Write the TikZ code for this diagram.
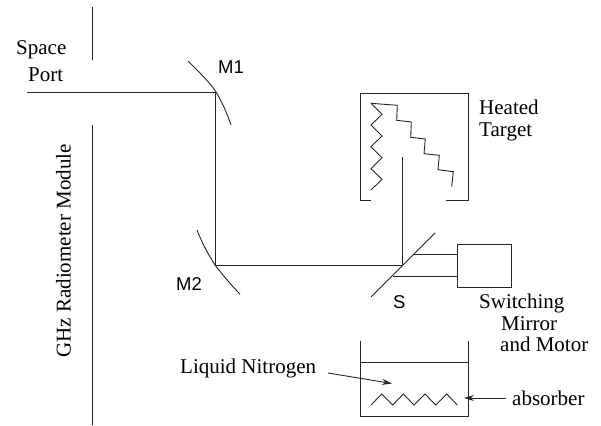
\documentclass[tikz,border=0pt]{standalone}
\usepackage{fontspec}
\setmainfont{Liberation Serif}
\newfontfamily\lab{Liberation Sans}
\usetikzlibrary{arrows.meta}
\tikzset{
  ln/.style={draw=black!85,line width=0.9pt,line join=miter},
  txt/.style={inner sep=0pt,font=\fontsize{21}{23}\selectfont,anchor=base west},
  mlab/.style={inner sep=0pt,font=\lab\fontsize{18.5}{20}\selectfont,anchor=base west},
  tip/.style={-{Stealth[length=10pt,width=6pt]}}
}
\begin{document}
\begin{tikzpicture}[x=1pt,y=-1pt]
\useasboundingbox (0,0) rectangle (601,425);
% walls
\coordinate (w1) at (92,7); \coordinate (w2) at (92,60);
\coordinate (w3) at (92,125); \coordinate (w4) at (92,425);
\draw[ln] (w1)--(w2); \draw[ln] (w3)--(w4);
% beam
\coordinate (b0) at (27,92); \coordinate (b1) at (215,92);
\coordinate (b2) at (215,265); \coordinate (b3) at (402,265);
\coordinate (b4) at (402,157);
\draw[ln] (b0)--(b1)--(b2)--(b3)--(b4);
% mirrors
\draw[ln] (188,61) .. controls (203,76) and (211,84) .. (216,92) .. controls (222,102) and (227,113) .. (231,125);
\draw[ln] (197,230) .. controls (202,243) and (208,254) .. (215,265) .. controls (222,274) and (230,284) .. (240,294);
\draw[ln] (371,297)--(435,233);
\draw[ln] (414,254)--(457,254);
\draw[ln] (393,276)--(457,276);
\node[draw=black!85,line width=0.9pt,minimum width=54pt,minimum height=43pt,inner sep=0pt,anchor=north west] (motor) at (457,244) {};
% heated target
\draw[ln] (371,200)--(360,200)--(360,93)--(468,93)--(468,200)--(446,200);
\draw[ln] (371,103.3)--(382,114.3)--(371,125)--(382,136)--(371,146.7)--(382,157.7)--(371,168.7)--(382,179.3)--(371,190);
\draw[ln] (371,103.3)--(397.3,105.3)--(396.7,120.3)--(411.3,122)--(410.7,137.3)--(425.3,139)--(424,153.7)--(439.3,155.3)--(438,169.7)--(453.3,171.7)--(451.7,186.7);
% tank
\draw[ln] (360,341)--(360,416)--(468,416)--(468,341);
\draw[ln] (360,362)--(468,362);
\draw[ln] (371,405)--(381.7,394)--(392.7,405)--(403.3,394)--(414,405)--(425,394)--(435.7,405)--(446.7,394)--(457.3,405);
% labels
\node[txt] (t1) at (16,55) {Space};
\node[txt] (t2) at (28,82) {Port};
\node[txt,rotate=90,anchor=base] (t3) at (70.7,251) {GHz Radiometer Module};
\node[mlab] (m1) at (218,74) {M1};
\node[mlab] (m2) at (176,290) {M2};
\node[mlab] (s) at (393,308) {S};
\node[txt] (h1) at (479,114) {Heated};
\node[txt] (h2) at (479,136) {Target};
\node[txt] (s1) at (479,308) {Switching};
\node[txt] (s2) at (501,330) {Mirror};
\node[txt] (s3) at (500,351) {and Motor};
\node[txt] (ln2) at (180,373) {Liquid Nitrogen};
\node[txt] (ab) at (512,405) {absorber};
\coordinate (a1) at (328,373); \coordinate (a2) at (392,383.5);
\coordinate (a3) at (506,398); \coordinate (a4) at (464,398);
\draw[ln,tip] (a1)--(a2);
\draw[ln,tip] (a3)--(a4);
\end{tikzpicture}
\end{document}
